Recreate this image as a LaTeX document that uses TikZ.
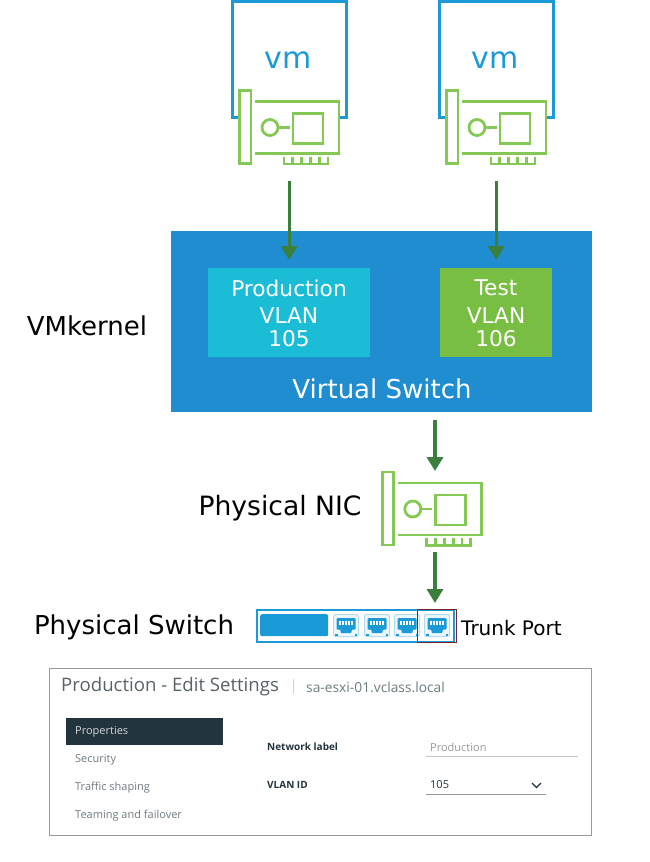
\documentclass[tikz,border=0pt]{standalone}
\usepackage{fontspec}
\setmainfont{DejaVu Sans}
\newfontfamily\uifont{Open Sans}
\usetikzlibrary{arrows.meta,positioning,calc}
\definecolor{vmblue}{HTML}{1A9BD7}
\definecolor{swblue}{HTML}{1F8DD0}
\definecolor{prodcyan}{HTML}{1ABCD6}
\definecolor{testgreen}{HTML}{78BE43}
\definecolor{nicgreen}{HTML}{86C855}
\definecolor{arrgreen}{HTML}{3A7F3C}
\definecolor{trunkred}{HTML}{7E2228}
\definecolor{uidark}{HTML}{22343C}
\definecolor{uigray}{HTML}{6F7B80}
\newcommand{\fs}[1]{\fontsize{#1}{#1}\selectfont}

\begin{document}
\begin{tikzpicture}[x=1pt,y=-1pt,
  arr/.style={-{Triangle[length=14pt,width=16pt]},line width=3.4pt,arrgreen},
  lbl/.style={inner sep=0pt,font=\fs{26},black},
  inbox/.style={text=white},
  vlan/.style={anchor=north west,inner sep=0pt,minimum height=89pt},
  vmbox/.style={draw=vmblue,line width=3pt},
  ui/.style={inner sep=0pt,anchor=west,font=\uifont\fs{11},text=uigray},
  uibold/.style={ui,font=\uifont\bfseries\fs{10},text=uidark},
  portbox/.style={anchor=north west,inner sep=0pt,minimum width=25pt,minimum height=22pt,draw=vmblue!35,fill=vmblue!8,rounded corners=1.5pt,line width=1pt},
  pics/nic/.style={code={
    \node[anchor=north west,inner sep=0pt,minimum width=100pt,minimum height=74pt] (-card) at (0,0) {};
    \coordinate (-out) at (52.7,73);
    \begin{scope}[draw=nicgreen,line width=2.8pt]
    \draw[fill=white] (0,0) rectangle (11.5,73);
    \draw (15.5,11) -- (99.5,11) -- (99.5,63) -- (15.5,63);
    \draw (30.5,37) circle (8);
    \draw (38.5,37) -- (50,37);
    \draw (53.5,23) rectangle (83.5,53);
    \draw (44.5,66) -- (44.5,73.5) -- (88.5,73.5) -- (88.5,66);
    \foreach \tx in {53.3,62.1,70.9,79.7} \draw (\tx,66) -- (\tx,73.5);
    \end{scope}}},
  pics/jack/.style={code={
    \fill[vmblue,rounded corners=1pt] (-9.5,-7.5) -- (9.5,-7.5) -- (9.5,4) -- (5.5,4) -- (5.5,7.5) -- (-5.5,7.5) -- (-5.5,4) -- (-9.5,4) -- cycle;
    \foreach \tx in {-6,-3,0,3,6} \fill[white] (\tx-0.9,-4.5) rectangle (\tx+0.9,-1);
    \fill[vmblue] (-11,8) rectangle (-8.5,10);
    \fill[vmblue] (8.5,8) rectangle (11,10);}}]
\useasboundingbox (0,0) rectangle (650,862);
\fill[white] (0,0) rectangle (650,862);
% vms
\node[inner sep=0pt,font=\fs{30},text=vmblue] (vma) at (288,60) {vm};
\node[inner sep=0pt,font=\fs{30},text=vmblue] (vmb) at (495,60) {vm};
\draw[vmbox] (240,117) -- (232,117) -- (232,1.5) -- (346,1.5) -- (346,117) -- (338,117);
\draw[vmbox] (447,117) -- (439,117) -- (439,1.5) -- (553,1.5) -- (553,117) -- (545,117);
\pic (nica) at (239.5,90.5) {nic};
\pic (nicb) at (446.5,90.5) {nic};
% virtual switch
\node[anchor=north west,inner sep=0pt,minimum width=421pt,minimum height=181pt,fill=swblue] (vswitch) at (171,231) {};
\node[vlan,minimum width=162pt,fill=prodcyan] (prod) at (208,268) {};
\node[vlan,minimum width=112pt,fill=testgreen] (test) at (440,268) {};
\node[inbox,inner sep=0pt,font=\fs{21.7}] (prodt) at (289,288) {Production};
\node[inbox,inner sep=0pt,font=\fs{21.7},align=center] (prodv) at (289,327) {VLAN\\[1pt]105};
\node[inbox,inner sep=0pt,font=\fs{21.7}] (testt) at (496,288) {Test};
\node[inbox,inner sep=0pt,font=\fs{21.7},align=center] (testv) at (496,327) {VLAN\\[1pt]106};
\node[inbox,inner sep=0pt,font=\fs{26}] (vswt) at (382,389) {Virtual Switch};
\node[lbl] (vmk) at (87,326) {VMkernel};
% uplink
\pic (nicc) at (382.3,472) {nic};
\node[lbl,font=\fs{26.6}] (pnic) at (280,508) {Physical NIC};
% physical switch
\node[anchor=north west,inner sep=0pt,minimum width=197pt,minimum height=32pt,draw=vmblue,line width=1.8pt] (pswitch) at (256,609) {};
\node[anchor=north west,inner sep=0pt,minimum width=68pt,minimum height=22pt,fill=vmblue,rounded corners=2pt] (pblock) at (260,614) {};
\foreach \n/\px in {pa/333,pb/364,pc/394,pd/424} {
  \node[portbox] (\n) at (\px,614) {};
  \pic at (\n.center) {jack};
}
\node[anchor=north west,inner sep=0pt,minimum width=39pt,minimum height=33pt,draw=trunkred,line width=1.3pt] (trunk) at (417,609) {};
\node[lbl,font=\fs{26}] (pswt) at (134,627) {Physical Switch};
\node[inner sep=0pt,anchor=west,font=\fs{20}] (trunkt) at (461,628) {Trunk Port};
% arrows
\draw[arr,shorten <=16pt,shorten >=8pt] (nica-card.south -| prod.north) -- (prod.north);
\draw[arr,shorten <=16pt,shorten >=8pt] (nicb-card.south -| test.north) -- (test.north);
\draw[arr,shorten <=8pt,shorten >=1pt] (vswitch.south -| nicc-out) -- (nicc-card.north -| nicc-out);
\draw[arr,shorten <=7pt,shorten >=6pt] (nicc-out) -- (nicc-out |- trunk.north);
% settings panel
\node[anchor=north west,inner sep=0pt,minimum width=542pt,minimum height=167pt,draw=gray!80,line width=1pt] (panel) at (49,668) {};
\node[ui,font=\uifont\fs{18.6},text=uigray!80!black] (title) at (61,687) {Production - Edit Settings};
\node[anchor=center,inner sep=0pt,minimum width=0.8pt,minimum height=15pt,fill=gray!35] (sep) at (293.5,686) {};
\node[ui,font=\uifont\fs{13.8}] (host) at (306,687) {sa-esxi-01.vclass.local};
\node[anchor=north west,inner sep=0pt,minimum width=157pt,minimum height=27pt,fill=uidark] (tabp) at (66,718) {};
\node[ui,text=white!80!uidark] (tabpt) at (75,732) {Properties};
\node[ui] (tabs) at (75,760) {Security};
\node[ui] (tabt) at (75,788) {Traffic shaping};
\node[ui] (tabf) at (75,816) {Teaming and failover};
\node[uibold] (netl) at (267,747) {Network label};
\node[uibold] (vlanl) at (267,785) {VLAN ID};
\node[ui,text=gray!80] (netv) at (430,747) {Production};
\node[ui,text=uidark] (vlanv) at (430,785) {105};
\draw[gray!45,line width=1pt] (426,756) -- (578,756);
\draw[gray!80,line width=1pt] (426,794) -- (546,794);
\draw[uidark,line width=1.2pt] (532,783) -- (536.5,787.5) -- (541,783);
\end{tikzpicture}
\end{document}
